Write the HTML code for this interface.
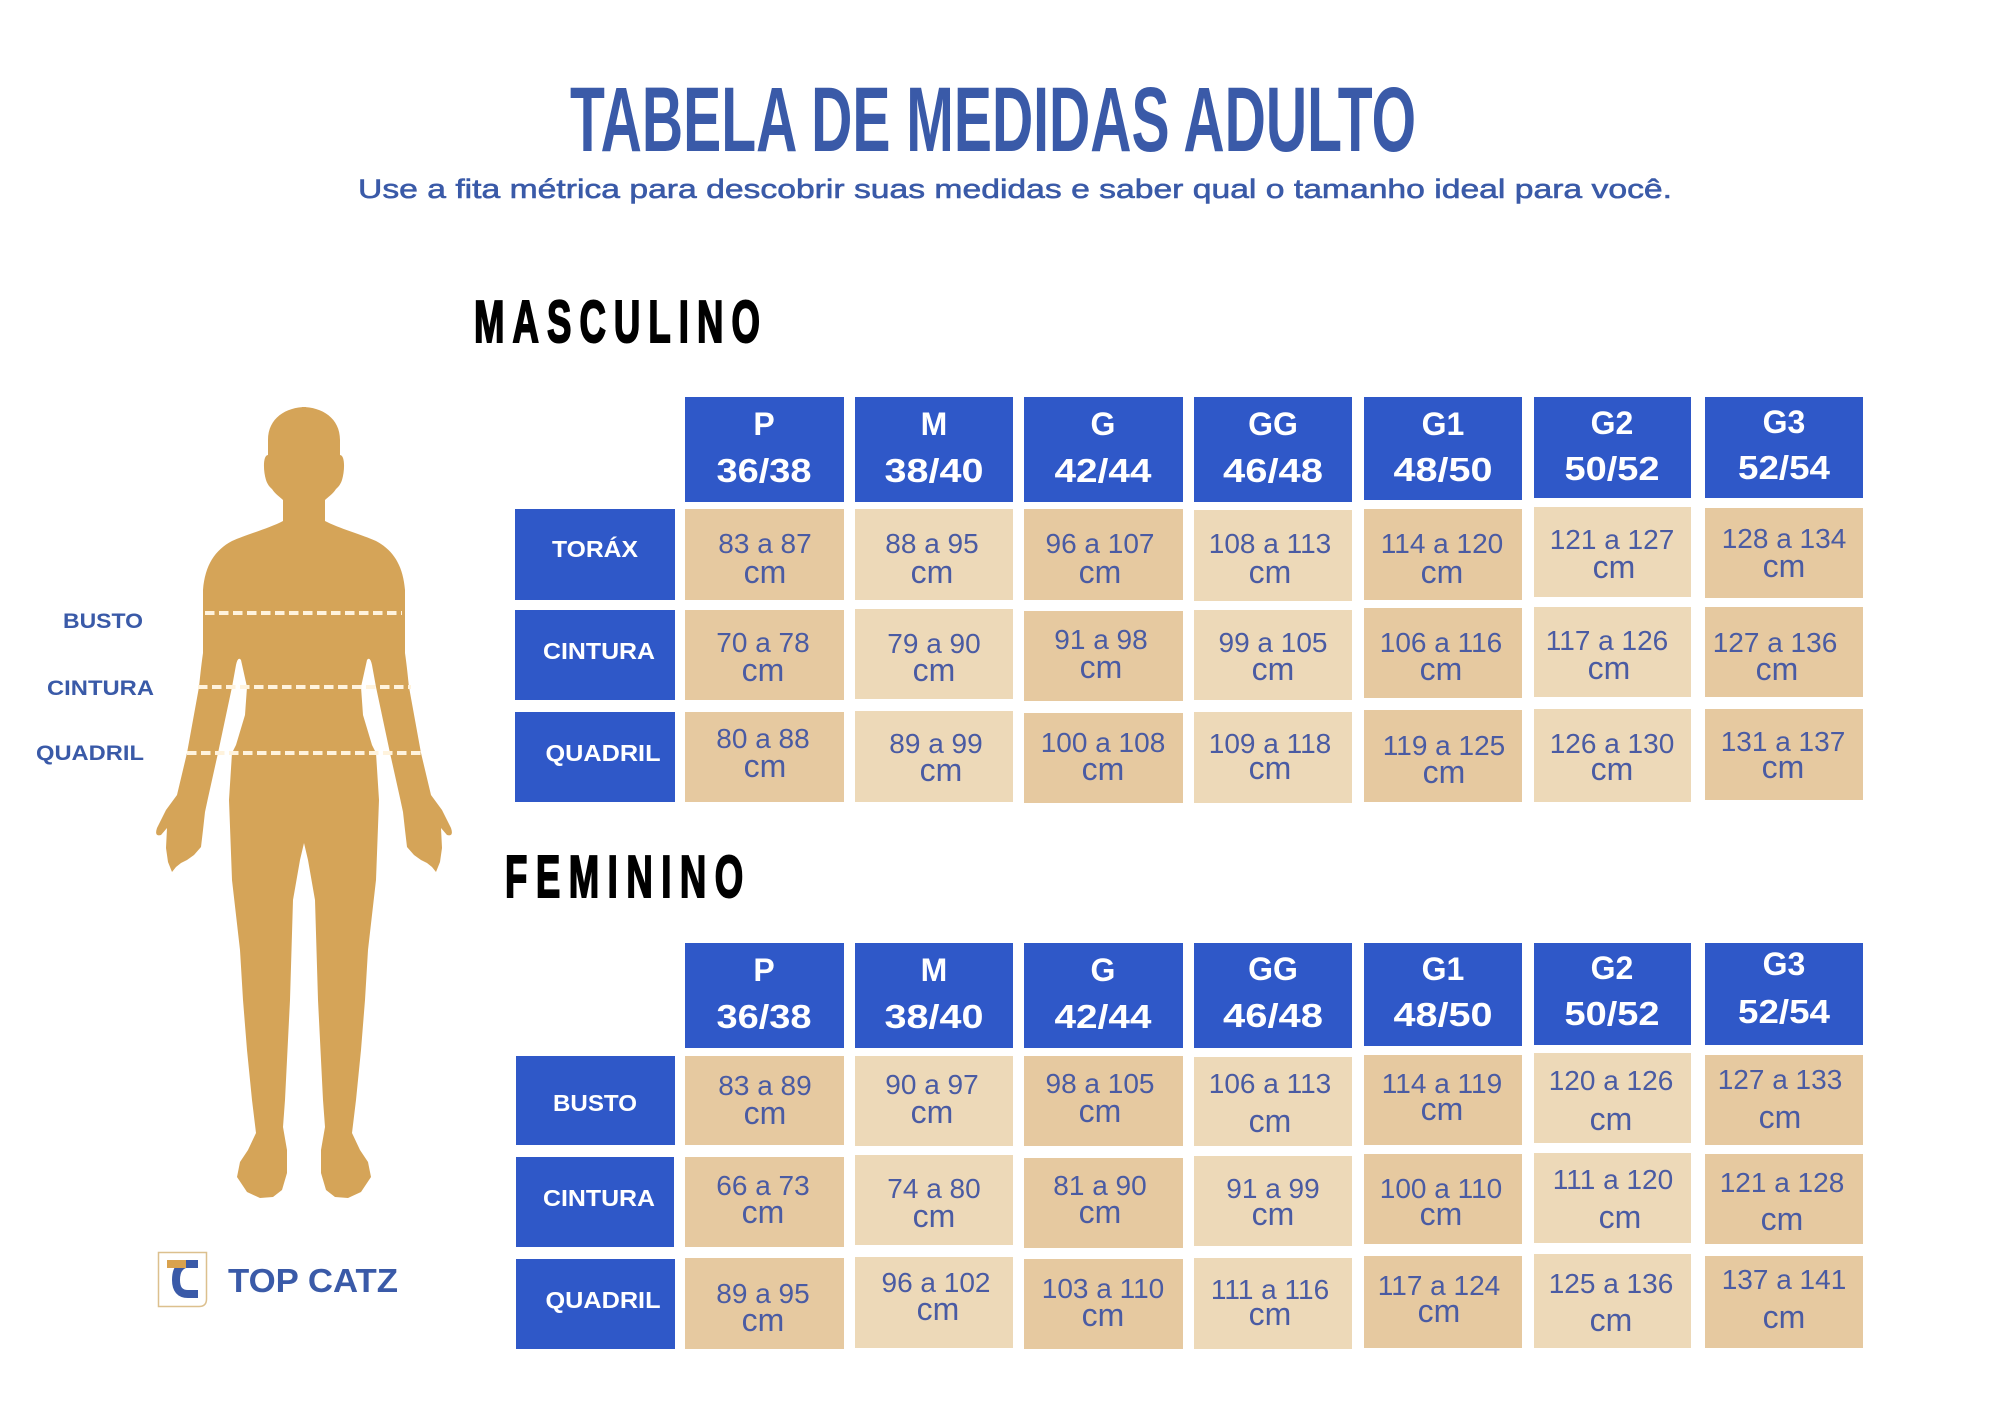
<!DOCTYPE html>
<html><head><meta charset="utf-8"><style>
html,body{margin:0;padding:0;background:#fff;}
svg{display:block;}
</style></head><body>
<svg width="2000" height="1414" viewBox="0 0 2000 1414" xmlns="http://www.w3.org/2000/svg" font-family="'Liberation Sans', sans-serif">
<rect width="2000" height="1414" fill="#fff"/>

<!-- Title -->
<text x="570" y="151" font-size="92" font-weight="bold" fill="#3A5AA8" textLength="846" lengthAdjust="spacingAndGlyphs">TABELA DE MEDIDAS ADULTO</text>
<text x="358" y="198" font-size="27" fill="#3A5AA8" stroke="#3A5AA8" stroke-width="0.6" textLength="1314" lengthAdjust="spacingAndGlyphs">Use a fita métrica para descobrir suas medidas e saber qual o tamanho ideal para você.</text>

<!-- Section titles -->
<text transform="translate(474 342) scale(0.62 1)" font-size="59" font-weight="bold" fill="#000" stroke="#000" stroke-width="2" letter-spacing="13">MASCULINO</text>
<text transform="translate(505 897) scale(0.62 1)" font-size="59" font-weight="bold" fill="#000" stroke="#000" stroke-width="2" letter-spacing="13.7">FEMININO</text>

<!-- Body silhouette -->
<g fill="#D5A458">
<path d="M306 407 C286 407 268 418 268 440 L268 455 C263 455 263 470 266 480 C268 486 271 488 272 489 C275 494 280 497 283 500 L283 521 C270 528 245 535 232 541 C215 550 205 565 203 590 L203 653 C201 667 200 678 199 687 L187 753 L177 795 L166 810 L157 828 Q154 837 161 835 L167 828 L166 848 L168 862 L172 872 L176 867 L181 863 L187 860 L194 855 L201 847 L203 830 L205 812 L208 798 L218 753 L232 687 L236 665 Q238 656 241 660 L247 687 L245 715 L236 745 L232 753 L229 800 L232 880 L240 950 L243 1000 L247 1050 L252 1100 L256 1133 L248 1150 L240 1162 L237 1177 L247 1192 L260 1198 L273 1197 L282 1190 L287 1173 L287 1150 L283 1127 L285 1100 L290 1000 L293 900 L300 860 L304 843 L306 843 Z"/>
<path transform="matrix(-1 0 0 1 608 0)" d="M306 407 C286 407 268 418 268 440 L268 455 C263 455 263 470 266 480 C268 486 271 488 272 489 C275 494 280 497 283 500 L283 521 C270 528 245 535 232 541 C215 550 205 565 203 590 L203 653 C201 667 200 678 199 687 L187 753 L177 795 L166 810 L157 828 Q154 837 161 835 L167 828 L166 848 L168 862 L172 872 L176 867 L181 863 L187 860 L194 855 L201 847 L203 830 L205 812 L208 798 L218 753 L232 687 L236 665 Q238 656 241 660 L247 687 L245 715 L236 745 L232 753 L229 800 L232 880 L240 950 L243 1000 L247 1050 L252 1100 L256 1133 L248 1150 L240 1162 L237 1177 L247 1192 L260 1198 L273 1197 L282 1190 L287 1173 L287 1150 L283 1127 L285 1100 L290 1000 L293 900 L300 860 L304 843 L306 843 Z"/>
</g>
<g stroke="#FFF3DD" stroke-width="4" stroke-dasharray="9.5 4.5">
<line x1="205" y1="613" x2="402" y2="613"/>
<line x1="198" y1="687" x2="411" y2="687"/>
<line x1="187" y1="753" x2="422" y2="753"/>
</g>
<g font-size="21" font-weight="bold" fill="#3A5AA8">
<text x="63" y="628" textLength="80" lengthAdjust="spacingAndGlyphs">BUSTO</text>
<text x="47" y="695" textLength="107" lengthAdjust="spacingAndGlyphs">CINTURA</text>
<text x="36" y="760" textLength="108" lengthAdjust="spacingAndGlyphs">QUADRIL</text>
</g>

<!-- Logo -->
<path d="M158.5 1252.5 L206.5 1252.5 L206.5 1299 Q206.5 1306.5 199 1306.5 L158.5 1306.5 Z" fill="#fff" stroke="#DCC08E" stroke-width="1.5"/>
<path d="M198 1264 L186 1264 Q176 1266 176 1280 Q176 1294 188 1294 L198 1294" fill="none" stroke="#3A5AA8" stroke-width="8"/>
<rect x="167" y="1260" width="19" height="8" fill="#D9A24E"/>
<text x="228" y="1292" font-size="33" font-weight="bold" fill="#3A5AA8" textLength="170" lengthAdjust="spacingAndGlyphs">TOP CATZ</text>

<!-- ===== MASCULINO TABLE ===== -->
<g fill="#2F58C8">
<rect x="685" y="397" width="159" height="105"/>
<rect x="855" y="397" width="158" height="105"/>
<rect x="1024" y="397" width="159" height="105"/>
<rect x="1194" y="397" width="158" height="105"/>
<rect x="1364" y="397" width="158" height="103"/>
<rect x="1534" y="397" width="157" height="101"/>
<rect x="1705" y="397" width="158" height="101"/>
<rect x="515" y="509" width="160" height="91"/>
<rect x="515" y="610" width="160" height="90"/>
<rect x="515" y="712" width="160" height="90"/>
</g>
<g>
<rect x="685" y="509" width="159" height="91" fill="#E6C9A0"/>
<rect x="855" y="509" width="158" height="91" fill="#EDD9B8"/>
<rect x="1024" y="509" width="159" height="91" fill="#E6C9A0"/>
<rect x="1194" y="510" width="158" height="91" fill="#EDD9B8"/>
<rect x="1364" y="509" width="158" height="91" fill="#E6C9A0"/>
<rect x="1534" y="507" width="157" height="90" fill="#EDD9B8"/>
<rect x="1705" y="508" width="158" height="90" fill="#E6C9A0"/>

<rect x="685" y="610" width="159" height="90" fill="#E6C9A0"/>
<rect x="855" y="609" width="158" height="90" fill="#EDD9B8"/>
<rect x="1024" y="611" width="159" height="90" fill="#E6C9A0"/>
<rect x="1194" y="610" width="158" height="90" fill="#EDD9B8"/>
<rect x="1364" y="608" width="158" height="90" fill="#E6C9A0"/>
<rect x="1534" y="607" width="157" height="90" fill="#EDD9B8"/>
<rect x="1705" y="607" width="158" height="90" fill="#E6C9A0"/>

<rect x="685" y="712" width="159" height="90" fill="#E6C9A0"/>
<rect x="855" y="711" width="158" height="91" fill="#EDD9B8"/>
<rect x="1024" y="713" width="159" height="90" fill="#E6C9A0"/>
<rect x="1194" y="712" width="158" height="91" fill="#EDD9B8"/>
<rect x="1364" y="710" width="158" height="92" fill="#E6C9A0"/>
<rect x="1534" y="709" width="157" height="93" fill="#EDD9B8"/>
<rect x="1705" y="709" width="158" height="91" fill="#E6C9A0"/>
</g>
<g fill="#fff" font-weight="bold" text-anchor="middle">
<g font-size="32">
<text x="764" y="435">P</text>
<text x="934" y="435">M</text>
<text x="1103" y="435">G</text>
<text x="1273" y="435">GG</text>
<text x="1443" y="435">G1</text>
<text x="1612" y="434">G2</text>
<text x="1784" y="433">G3</text>
</g>
<g font-size="33">
<text x="764" y="482" textLength="95" lengthAdjust="spacingAndGlyphs">36/38</text>
<text x="934" y="482" textLength="99" lengthAdjust="spacingAndGlyphs">38/40</text>
<text x="1103" y="482" textLength="97" lengthAdjust="spacingAndGlyphs">42/44</text>
<text x="1273" y="482" textLength="100" lengthAdjust="spacingAndGlyphs">46/48</text>
<text x="1443" y="481" textLength="99" lengthAdjust="spacingAndGlyphs">48/50</text>
<text x="1612" y="480" textLength="95" lengthAdjust="spacingAndGlyphs">50/52</text>
<text x="1784" y="479" textLength="92" lengthAdjust="spacingAndGlyphs">52/54</text>
</g>
<g font-size="23">
<text x="595" y="557" textLength="86" lengthAdjust="spacingAndGlyphs">TORÁX</text>
<text x="599" y="659" textLength="112" lengthAdjust="spacingAndGlyphs">CINTURA</text>
<text x="603" y="761" textLength="115" lengthAdjust="spacingAndGlyphs">QUADRIL</text>
</g>
</g>

<g fill="#4A5BA3" text-anchor="middle">
<g font-size="28">
<text x="765" y="553">83 a 87</text>
<text x="932" y="553">88 a 95</text>
<text x="1100" y="553">96 a 107</text>
<text x="1270" y="553">108 a 113</text>
<text x="1442" y="553">114 a 120</text>
<text x="1612" y="549">121 a 127</text>
<text x="1784" y="548">128 a 134</text>

<text x="763" y="652">70 a 78</text>
<text x="934" y="653">79 a 90</text>
<text x="1101" y="649">91 a 98</text>
<text x="1273" y="652">99 a 105</text>
<text x="1441" y="652">106 a 116</text>
<text x="1607" y="650">117 a 126</text>
<text x="1775" y="652">127 a 136</text>

<text x="763" y="748">80 a 88</text>
<text x="936" y="753">89 a 99</text>
<text x="1103" y="752">100 a 108</text>
<text x="1270" y="753">109 a 118</text>
<text x="1444" y="755">119 a 125</text>
<text x="1612" y="753">126 a 130</text>
<text x="1783" y="751">131 a 137</text>
</g>
<g font-size="32">
<text x="765" y="583">cm</text>
<text x="932" y="583">cm</text>
<text x="1100" y="583">cm</text>
<text x="1270" y="583">cm</text>
<text x="1442" y="583">cm</text>
<text x="1614" y="578">cm</text>
<text x="1784" y="577">cm</text>

<text x="763" y="681">cm</text>
<text x="934" y="681">cm</text>
<text x="1101" y="678">cm</text>
<text x="1273" y="680">cm</text>
<text x="1441" y="680">cm</text>
<text x="1609" y="679">cm</text>
<text x="1777" y="680">cm</text>

<text x="765" y="777">cm</text>
<text x="941" y="781">cm</text>
<text x="1103" y="780">cm</text>
<text x="1270" y="779">cm</text>
<text x="1444" y="783">cm</text>
<text x="1612" y="780">cm</text>
<text x="1783" y="778">cm</text>
</g>
</g>

<!-- ===== FEMININO TABLE ===== -->
<g fill="#2F58C8">
<rect x="685" y="943" width="159" height="105"/>
<rect x="855" y="943" width="158" height="105"/>
<rect x="1024" y="943" width="159" height="105"/>
<rect x="1194" y="943" width="158" height="105"/>
<rect x="1364" y="943" width="158" height="103"/>
<rect x="1534" y="943" width="157" height="102"/>
<rect x="1705" y="943" width="158" height="102"/>
<rect x="516" y="1056" width="159" height="89"/>
<rect x="516" y="1157" width="158" height="90"/>
<rect x="516" y="1259" width="159" height="90"/>
</g>
<g>
<rect x="685" y="1056" width="159" height="89" fill="#E6C9A0"/>
<rect x="855" y="1056" width="158" height="90" fill="#EDD9B8"/>
<rect x="1024" y="1056" width="159" height="90" fill="#E6C9A0"/>
<rect x="1194" y="1057" width="158" height="89" fill="#EDD9B8"/>
<rect x="1364" y="1055" width="158" height="90" fill="#E6C9A0"/>
<rect x="1534" y="1053" width="157" height="90" fill="#EDD9B8"/>
<rect x="1705" y="1055" width="158" height="90" fill="#E6C9A0"/>

<rect x="685" y="1157" width="159" height="90" fill="#E6C9A0"/>
<rect x="855" y="1155" width="158" height="90" fill="#EDD9B8"/>
<rect x="1024" y="1158" width="159" height="90" fill="#E6C9A0"/>
<rect x="1194" y="1156" width="158" height="90" fill="#EDD9B8"/>
<rect x="1364" y="1154" width="158" height="90" fill="#E6C9A0"/>
<rect x="1534" y="1153" width="157" height="90" fill="#EDD9B8"/>
<rect x="1705" y="1154" width="158" height="90" fill="#E6C9A0"/>

<rect x="685" y="1258" width="159" height="91" fill="#E6C9A0"/>
<rect x="855" y="1257" width="158" height="91" fill="#EDD9B8"/>
<rect x="1024" y="1259" width="159" height="90" fill="#E6C9A0"/>
<rect x="1194" y="1258" width="158" height="91" fill="#EDD9B8"/>
<rect x="1364" y="1256" width="158" height="92" fill="#E6C9A0"/>
<rect x="1534" y="1254" width="157" height="94" fill="#EDD9B8"/>
<rect x="1705" y="1256" width="158" height="92" fill="#E6C9A0"/>
</g>
<g fill="#fff" font-weight="bold" text-anchor="middle">
<g font-size="32">
<text x="764" y="981">P</text>
<text x="934" y="981">M</text>
<text x="1103" y="981">G</text>
<text x="1273" y="980">GG</text>
<text x="1443" y="980">G1</text>
<text x="1612" y="979">G2</text>
<text x="1784" y="975">G3</text>
</g>
<g font-size="33">
<text x="764" y="1028" textLength="95" lengthAdjust="spacingAndGlyphs">36/38</text>
<text x="934" y="1028" textLength="99" lengthAdjust="spacingAndGlyphs">38/40</text>
<text x="1103" y="1028" textLength="97" lengthAdjust="spacingAndGlyphs">42/44</text>
<text x="1273" y="1027" textLength="100" lengthAdjust="spacingAndGlyphs">46/48</text>
<text x="1443" y="1026" textLength="99" lengthAdjust="spacingAndGlyphs">48/50</text>
<text x="1612" y="1025" textLength="95" lengthAdjust="spacingAndGlyphs">50/52</text>
<text x="1784" y="1023" textLength="92" lengthAdjust="spacingAndGlyphs">52/54</text>
</g>
<g font-size="23">
<text x="595" y="1111" textLength="84" lengthAdjust="spacingAndGlyphs">BUSTO</text>
<text x="599" y="1206" textLength="112" lengthAdjust="spacingAndGlyphs">CINTURA</text>
<text x="603" y="1308" textLength="115" lengthAdjust="spacingAndGlyphs">QUADRIL</text>
</g>
</g>

<g fill="#4A5BA3" text-anchor="middle">
<g font-size="28">
<text x="765" y="1095">83 a 89</text>
<text x="932" y="1094">90 a 97</text>
<text x="1100" y="1093">98 a 105</text>
<text x="1270" y="1093">106 a 113</text>
<text x="1442" y="1093">114 a 119</text>
<text x="1611" y="1090">120 a 126</text>
<text x="1780" y="1089">127 a 133</text>

<text x="763" y="1195">66 a 73</text>
<text x="934" y="1198">74 a 80</text>
<text x="1100" y="1195">81 a 90</text>
<text x="1273" y="1198">91 a 99</text>
<text x="1441" y="1198">100 a 110</text>
<text x="1613" y="1189">111 a 120</text>
<text x="1782" y="1192">121 a 128</text>

<text x="763" y="1303">89 a 95</text>
<text x="936" y="1292">96 a 102</text>
<text x="1103" y="1298">103 a 110</text>
<text x="1270" y="1299">111 a 116</text>
<text x="1439" y="1295">117 a 124</text>
<text x="1611" y="1293">125 a 136</text>
<text x="1784" y="1289">137 a 141</text>
</g>
<g font-size="32">
<text x="765" y="1124">cm</text>
<text x="932" y="1123">cm</text>
<text x="1100" y="1122">cm</text>
<text x="1270" y="1132">cm</text>
<text x="1442" y="1120">cm</text>
<text x="1611" y="1130">cm</text>
<text x="1780" y="1128">cm</text>

<text x="763" y="1223">cm</text>
<text x="934" y="1227">cm</text>
<text x="1100" y="1223">cm</text>
<text x="1273" y="1225">cm</text>
<text x="1441" y="1225">cm</text>
<text x="1620" y="1228">cm</text>
<text x="1782" y="1230">cm</text>

<text x="763" y="1331">cm</text>
<text x="938" y="1320">cm</text>
<text x="1103" y="1326">cm</text>
<text x="1270" y="1325">cm</text>
<text x="1439" y="1322">cm</text>
<text x="1611" y="1331">cm</text>
<text x="1784" y="1328">cm</text>
</g>
</g>
</svg>
</body></html>
